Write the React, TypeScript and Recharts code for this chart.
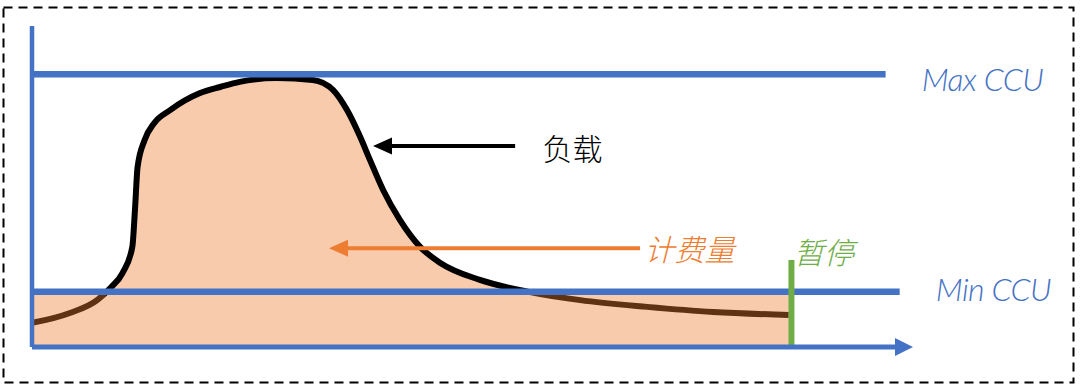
import React from "react";
import {
  ComposedChart,
  Area,
  Line,
  XAxis,
  YAxis,
  ReferenceLine,
  ReferenceDot,
} from "recharts";

// ---- data ----
const TIME = [0, 4.3, 7.4, 8.9, 10.3, 11.4, 11.7, 12.0, 12.8, 13.9, 15.7, 19.1, 21.4, 23.6, 27.8, 31.9, 34.2, 35.8, 37.3, 38.4, 39.9, 41.8, 44.1, 46.4, 50.9, 56.6, 62.3, 69.9, 77.4, 86];
const LOAD = [7.5, 10.6, 14.6, 18.4, 23.1, 31.2, 42.7, 56.1, 64.5, 69.8, 73.8, 79.1, 81.0, 82.6, 83.8, 83.2, 80.1, 73.8, 65.4, 58.3, 48.9, 39.6, 31.2, 26.2, 20.9, 17.1, 14.6, 12.5, 10.9, 10.0];
const MIN_CCU = 17.2;
const MAX_CCU = 85;
const MAX_LINE_END = 97;
const MIN_LINE_END = 98.6;
const PAUSE_T = 86.3;
const PAUSE_TOP = 27.1;
const LOAD_ARROW = { tail: 54.9, tip: 38.75, y: 62.6 };
const BILL_ARROW = { tail: 69.1, tip: 33.75, y: 30.8 };
const LABELS = [
  { key: "load", text: "负载", x: 58, y: 62.3, color: "#000000", italic: false, font: "cjk" },
  { key: "bill", text: "计费量", x: 69.6, y: 30.8, color: "#ED7D31", italic: true, font: "cjk" },
  { key: "pause", text: "暂停", x: 86.6, y: 29.9, color: "#70AD47", italic: true, font: "cjk" },
  { key: "max", text: "Max CCU", x: 101.1, y: 83.6, color: "#4472C4", italic: true, font: "latin" },
  { key: "min", text: "Min CCU", x: 102.7, y: 18.2, color: "#4472C4", italic: true, font: "latin" },
];

const data = TIME.map((t, i) => ({
  t,
  load: LOAD[i],
  billed: [MIN_CCU, Math.max(LOAD[i], MIN_CCU)],
  base: MIN_CCU,
}));

// where the load curve crosses Min CCU, as fractions of the drawn line length
const crossings: number[] = [];
for (let i = 1; i < TIME.length; i++) {
  const a = LOAD[i - 1] - MIN_CCU;
  const b = LOAD[i] - MIN_CCU;
  if (a * b < 0) {
    const tc = TIME[i - 1] + ((TIME[i] - TIME[i - 1]) * a) / (a - b);
    crossings.push((tc - TIME[0]) / (TIME[TIME.length - 1] - TIME[0]));
  }
}

const BLUE = "#4472C4";
const ORANGE = "#ED7D31";
const GREEN = "#70AD47";
const BROWN = "#5F3214";

const leftArrow = (color: string) => (props: any) => {
  const { cx, cy } = props;
  return (
    <polygon
      points={`${cx},${cy} ${cx + 19},${cy - 8.5} ${cx + 19},${cy + 8.5}`}
      fill={color}
    />
  );
};

const rightArrow = (props: any) => {
  const { cx, cy } = props;
  return (
    <polygon
      points={`${cx + 1},${cy} ${cx - 17},${cy - 9} ${cx - 17},${cy + 9}`}
      fill={BLUE}
    />
  );
};

const textShape = (text: string, color: string, italic: boolean, font: string) => (props: any) => {
  const { cx, cy } = props;
  const latin = font === "latin";
  return (
    <text
      x={cx}
      y={cy}
      dominantBaseline="central"
      textAnchor="start"
      fill={color}
      fontSize={latin ? 32 : 30}
      fontWeight={300}
      letterSpacing={latin ? -0.6 : 0}
      fontStyle={italic ? "italic" : "normal"}
      fontFamily={latin ? "Lato, sans-serif" : "'Noto Sans CJK SC', sans-serif"}
    >
      {text}
    </text>
  );
};

export default function App() {
  const stops: { off: number; color: string }[] = [];
  let above = LOAD[0] >= MIN_CCU;
  stops.push({ off: 0, color: above ? "#000" : BROWN });
  crossings.forEach((c) => {
    stops.push({ off: c, color: above ? "#000" : BROWN });
    above = !above;
    stops.push({ off: c, color: above ? "#000" : BROWN });
  });
  stops.push({ off: 1, color: above ? "#000" : BROWN });

  return (
    <div
      style={{
        position: "absolute",
        left: 0,
        top: 0,
        width: 1080,
        height: 387,
        background: "#fff",
      }}
    >
      <svg
        width={1080}
        height={387}
        style={{ position: "absolute", left: 0, top: 0 }}
      >
        <rect
          x={3.5}
          y={7.5}
          width={1070}
          height={375}
          fill="none"
          stroke="#000"
          strokeWidth={2}
          strokeDasharray="9 6"
        />
      </svg>
      <div style={{ position: "absolute", left: 0, top: 0 }}>
        <ComposedChart
          width={1080}
          height={387}
          data={data}
          margin={{ top: 26, right: 168, bottom: 40, left: 32 }}
        >
          <defs>
            <linearGradient id="loadStroke" x1="0" y1="0" x2="1" y2="0">
              {stops.map((s, i) => (
                <stop key={i} offset={s.off} stopColor={s.color} />
              ))}
            </linearGradient>
          </defs>
          <XAxis
            dataKey="t"
            type="number"
            domain={[0, 100]}
            allowDataOverflow
            hide
          />
          <YAxis type="number" domain={[0, 100]} allowDataOverflow hide />
          <Area
            dataKey="billed"
            type="monotoneX"
            stroke="none"
            fill={ORANGE}
            fillOpacity={0.4}
            isAnimationActive={false}
            dot={false}
            activeDot={false}
          />
          <Area
            dataKey="base"
            type="linear"
            stroke="none"
            fill={ORANGE}
            fillOpacity={0.4}
            isAnimationActive={false}
            dot={false}
            activeDot={false}
          />
          <Line
            dataKey="load"
            type="monotoneX"
            stroke="url(#loadStroke)"
            strokeWidth={6}
            dot={false}
            activeDot={false}
            isAnimationActive={false}
          />
          <ReferenceLine
            segment={[
              { x: 0, y: MAX_CCU },
              { x: MAX_LINE_END, y: MAX_CCU },
            ]}
            stroke={BLUE}
            strokeWidth={6.5}
          />
          <ReferenceLine
            segment={[
              { x: 0, y: MIN_CCU },
              { x: MIN_LINE_END, y: MIN_CCU },
            ]}
            stroke={BLUE}
            strokeWidth={6.5}
          />
          <ReferenceLine
            segment={[
              { x: PAUSE_T, y: 0 },
              { x: PAUSE_T, y: PAUSE_TOP },
            ]}
            stroke={GREEN}
            strokeWidth={6}
          />
          <ReferenceLine
            segment={[
              { x: 0, y: 0 },
              { x: 99, y: 0 },
            ]}
            stroke={BLUE}
            strokeWidth={5}
          />
          <ReferenceLine
            segment={[
              { x: 0, y: 0 },
              { x: 0, y: 100 },
            ]}
            stroke={BLUE}
            strokeWidth={4.5}
          />
          <ReferenceLine
            segment={[
              { x: LOAD_ARROW.tip + 1.5, y: LOAD_ARROW.y },
              { x: LOAD_ARROW.tail, y: LOAD_ARROW.y },
            ]}
            stroke="#000"
            strokeWidth={4}
          />
          <ReferenceDot
            x={LOAD_ARROW.tip}
            y={LOAD_ARROW.y}
            r={0}
            shape={leftArrow("#000")}
          />
          <ReferenceLine
            segment={[
              { x: BILL_ARROW.tip + 1.5, y: BILL_ARROW.y },
              { x: BILL_ARROW.tail, y: BILL_ARROW.y },
            ]}
            stroke={ORANGE}
            strokeWidth={4}
          />
          <ReferenceDot
            x={BILL_ARROW.tip}
            y={BILL_ARROW.y}
            r={0}
            shape={leftArrow(ORANGE)}
          />
          <ReferenceDot x={100} y={0} r={0} shape={rightArrow} ifOverflow="visible" />
          {LABELS.map((l) => (
            <ReferenceDot
              key={l.key}
              x={l.x}
              y={l.y}
              r={0}
              ifOverflow="visible"
              shape={textShape(l.text, l.color, l.italic, l.font)}
            />
          ))}
        </ComposedChart>
      </div>
    </div>
  );
}
